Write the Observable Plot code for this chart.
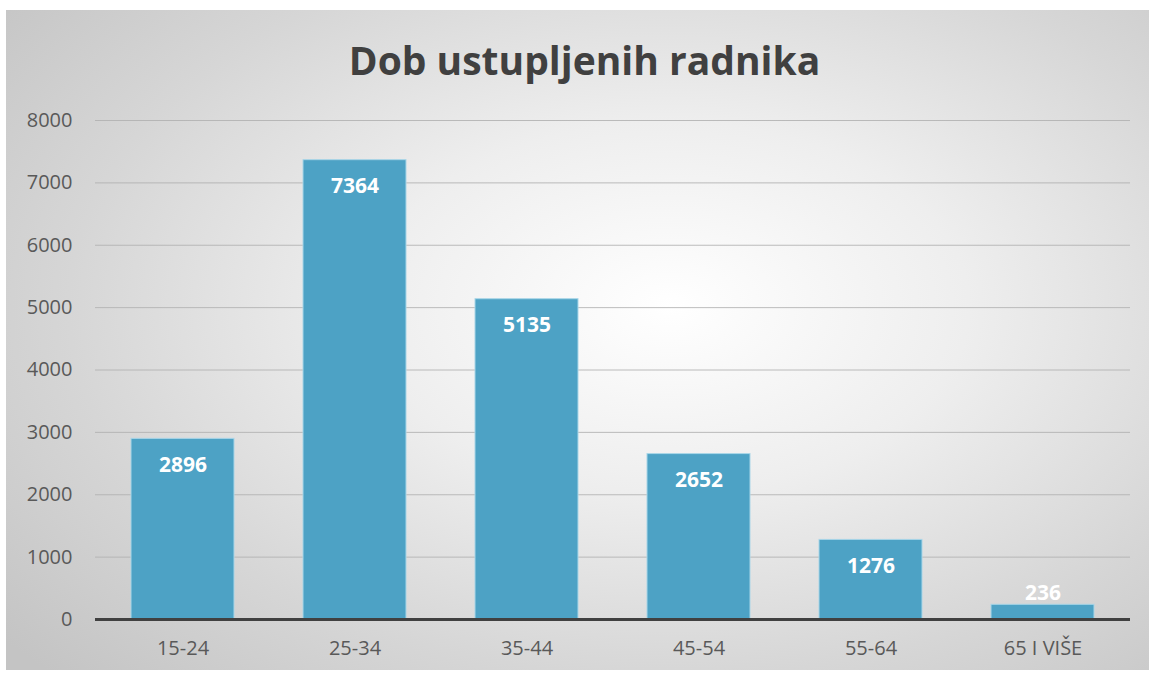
<!DOCTYPE html>
<html>
<head>
<meta charset="utf-8">
<script src="https://cdn.jsdelivr.net/npm/d3@7"></script>
<script src="https://cdn.jsdelivr.net/npm/@observablehq/plot@0.6"></script>
<style>
  html, body { margin: 0; padding: 0; background: #ffffff; }
  #panel {
    position: absolute; left: 6px; top: 10px; width: 1143px; height: 660px;
    background: radial-gradient(ellipse 75% 80% at 58% 45%, #ffffff 0%, #eeeeee 35%, #d6d6d6 70%, #c4c4c4 100%);
    font-family: "Open Sans", sans-serif;
  }
  #title {
    height: 80px; line-height: 100px; text-align: center;
    font-weight: 700; font-size: 39px; color: #404040;
    padding-left: 14px;
  }
  #chart svg { display: block; background: transparent; }
</style>
</head>
<body>
<div id="panel">
  <div id="title">Dob ustupljenih radnika</div>
  <div id="chart"></div>
</div>
<script>
const categories = ["15-24", "25-34", "35-44", "45-54", "55-64", "65 I VIŠE"];
const values = [2896, 7364, 5135, 2652, 1276, 236];
const yTicks = [0, 1000, 2000, 3000, 4000, 5000, 6000, 7000, 8000];

const data = categories.map((c, i) => ({category: c, value: values[i]}));

const chart = Plot.plot({
  width: 1143,
  height: 580,
  marginTop: 30,
  marginBottom: 51,
  marginLeft: 89,
  marginRight: 19,
  style: {fontFamily: "Open Sans, sans-serif", fontSize: "20px", color: "#595959", background: "transparent"},
  x: {domain: categories, paddingInner: 0.4, paddingOuter: 0.2, label: null, tickSize: 0, tickPadding: 21},
  y: {domain: [0, 8000], ticks: yTicks, label: null, tickSize: 0, tickPadding: 23, tickFormat: d => String(d)},
  marks: [
    Plot.gridY(yTicks, {stroke: "#b0b0b0", strokeOpacity: 0.85, strokeWidth: 1}),
    Plot.barY(data, {x: "category", y: "value", fill: "#4da2c5", stroke: "#a9d6e8", strokeWidth: 1}),
    Plot.ruleY([0], {stroke: "#404040", strokeWidth: 3}),
    Plot.text(data.filter(d => d.value >= 1000), {x: "category", y: "value", text: d => String(d.value), dy: 26, fill: "white", fontWeight: "bold", fontSize: 21}),
    Plot.text(data.filter(d => d.value < 1000), {x: "category", y: "value", text: d => String(d.value), dy: -12, fill: "white", fontWeight: "bold", fontSize: 21})
  ]
});
document.getElementById("chart").appendChild(chart);
</script>
</body>
</html>
